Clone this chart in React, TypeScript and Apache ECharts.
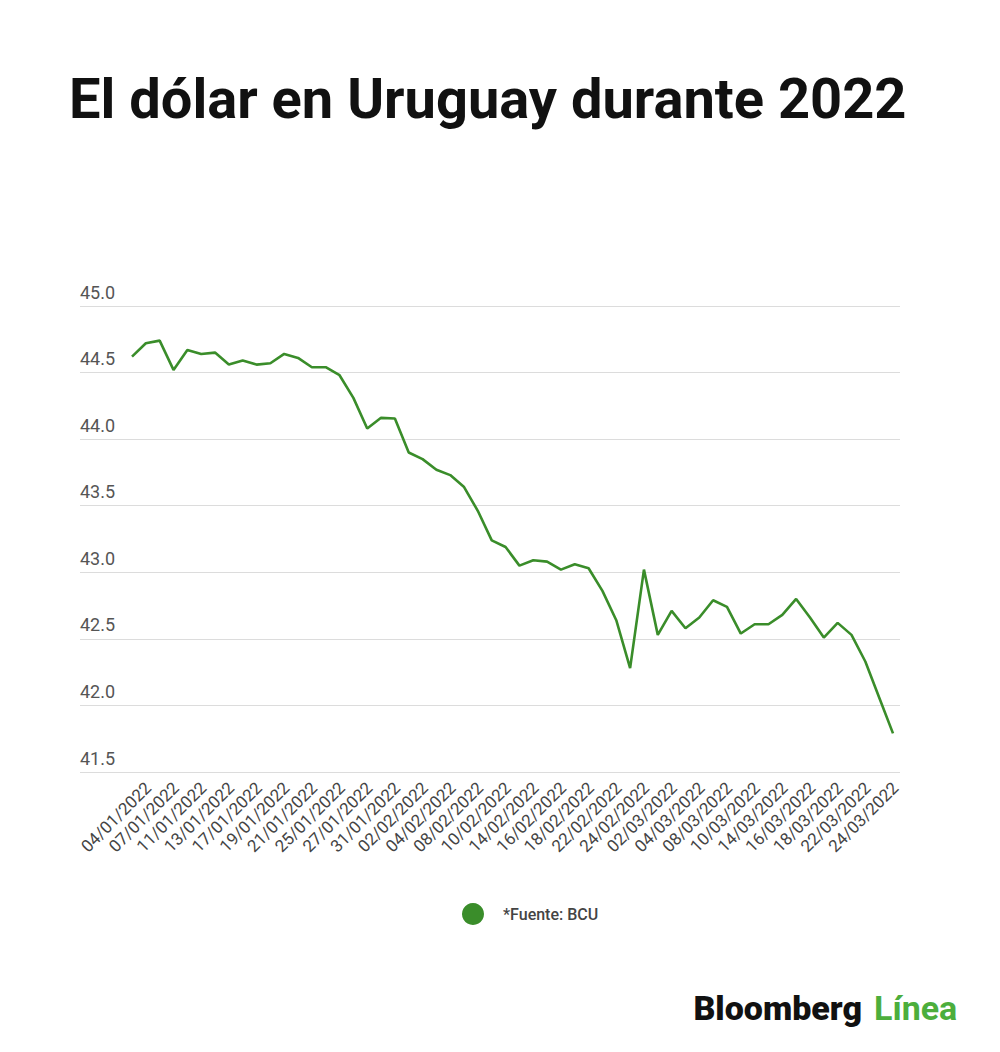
import { useEffect, useRef } from "react";
import * as echarts from "echarts";

// fechas hábiles (BCU), de 04/01 a 25/03
const fechas = [
  "04/01/2022", "05/01/2022", "07/01/2022", "10/01/2022", "11/01/2022", "12/01/2022",
  "13/01/2022", "14/01/2022", "17/01/2022", "18/01/2022", "19/01/2022", "20/01/2022",
  "21/01/2022", "24/01/2022", "25/01/2022", "26/01/2022", "27/01/2022", "28/01/2022",
  "31/01/2022", "01/02/2022", "02/02/2022", "03/02/2022", "04/02/2022", "07/02/2022",
  "08/02/2022", "09/02/2022", "10/02/2022", "11/02/2022", "14/02/2022", "15/02/2022",
  "16/02/2022", "17/02/2022", "18/02/2022", "21/02/2022", "22/02/2022", "23/02/2022",
  "24/02/2022", "25/02/2022", "02/03/2022", "03/03/2022", "04/03/2022", "07/03/2022",
  "08/03/2022", "09/03/2022", "10/03/2022", "11/03/2022", "14/03/2022", "15/03/2022",
  "16/03/2022", "17/03/2022", "18/03/2022", "21/03/2022", "22/03/2022", "23/03/2022",
  "24/03/2022", "25/03/2022",
];

// cotización del dólar (pesos uruguayos)
const dolar = [
  44.62, 44.72, 44.74, 44.52, 44.67, 44.64, 44.65, 44.56, 44.59, 44.56,
  44.57, 44.64, 44.61, 44.54, 44.54, 44.48, 44.31, 44.08, 44.16, 44.155,
  43.9, 43.85, 43.77, 43.73, 43.64, 43.46, 43.24, 43.19, 43.05, 43.09,
  43.08, 43.02, 43.06, 43.03, 42.86, 42.64, 42.28, 43.02, 42.53, 42.71,
  42.58, 42.66, 42.79, 42.74, 42.54, 42.61, 42.61, 42.68, 42.8, 42.66,
  42.51, 42.62, 42.53, 42.33, 42.06, 41.79,
];

const yMin = 41.5;
const yMax = 45;
const yPaso = 0.5;

const VERDE = "#3a8d2a";
const FUENTE = "Roboto, 'Noto Sans', sans-serif";

const App = () => {
  const chartRef = useRef<HTMLDivElement>(null);

  useEffect(() => {
    const chart = echarts.init(chartRef.current, undefined, { renderer: "svg" });
    const options: echarts.EChartsOption = {
      animation: false,
      backgroundColor: "#fff",
      title: {
        text: "El dólar en Uruguay durante 2022",
        left: 64,
        top: 66,
        textStyle: {
          fontFamily: FUENTE,
          fontSize: 56,
          fontWeight: "bold",
          color: "#111",
        },
      },
      legend: {
        left: 457,
        top: 898,
        itemWidth: 22,
        itemHeight: 22,
        icon: "circle",
        data: ["*Fuente: BCU"],
        textStyle: {
          fontFamily: FUENTE,
          fontSize: 16,
          fontWeight: 500,
          color: "#444",
          padding: [0, 0, 0, 14],
        },
      },
      grid: [
        // líneas de fondo y etiquetas del eje y
        { left: 80, right: 100, top: 306, bottom: 280 },
        // la serie
        { left: 132, right: 107, top: 306, bottom: 280 },
        // etiquetas de fechas, algo corridas a la derecha
        { left: 148, right: 91, top: 306, bottom: 280 },
      ],
      xAxis: [
        { gridIndex: 0, type: "category", data: fechas, show: false },
        {
          gridIndex: 1,
          type: "category",
          boundaryGap: false,
          data: fechas,
          axisLine: { show: false },
          axisTick: { show: false },
          axisLabel: { show: false },
        },
        {
          gridIndex: 2,
          type: "category",
          boundaryGap: false,
          data: fechas,
          axisLine: { show: false },
          axisTick: { show: false },
          axisLabel: {
            interval: 1,
            rotate: 45,
            margin: 13,
            fontFamily: FUENTE,
            fontSize: 17,
            color: "#444",
          },
        },
      ],
      yAxis: [
        {
          gridIndex: 0,
          type: "value",
          min: yMin,
          max: yMax,
          interval: yPaso,
          axisLine: { show: false },
          axisTick: { show: false },
          splitLine: { lineStyle: { color: "#dcdcdc", width: 1 } },
          axisLabel: {
            inside: true,
            align: "left",
            verticalAlign: "bottom",
            margin: 0,
            padding: [0, 0, 5, 0],
            fontFamily: FUENTE,
            fontSize: 18,
            color: "#555",
            formatter: (v: number) => v.toFixed(1),
          },
        },
        { gridIndex: 1, type: "value", min: yMin, max: yMax, interval: yPaso, show: false },
        { gridIndex: 2, type: "value", min: yMin, max: yMax, interval: yPaso, show: false },
      ],
      series: [
        {
          name: "*Fuente: BCU",
          type: "line",
          xAxisIndex: 1,
          yAxisIndex: 1,
          data: dolar,
          symbol: "none",
          itemStyle: { color: VERDE },
          lineStyle: { color: VERDE, width: 2.6 },
        },
      ],
      graphic: [
        {
          type: "text",
          right: 138,
          top: 991,
          style: {
            text: "Bloomberg",
            fontFamily: FUENTE,
            fontSize: 34,
            fontWeight: 900,
            fill: "#111",
          },
        },
        {
          type: "text",
          left: 874,
          top: 991,
          style: {
            text: "Línea",
            fontFamily: FUENTE,
            fontSize: 34,
            fontWeight: "bold",
            fill: "#4cae3c",
          },
        },
      ],
    };
    chart.setOption(options);
    return () => {
      chart.dispose();
    };
  }, []);

  return (
    <div
      ref={chartRef}
      style={{ position: "absolute", left: 0, top: 0, width: "1000px", height: "1052px" }}
    ></div>
  );
};

export default App;
